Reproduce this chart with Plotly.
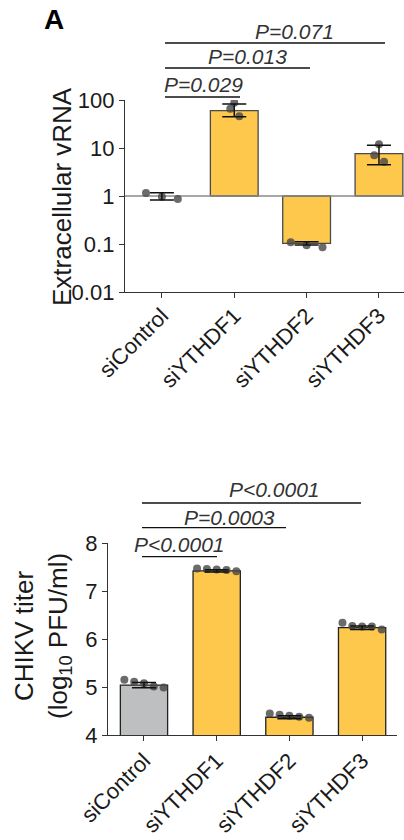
import plotly.graph_objects as go

# ---------------- data ----------------
categories = ["siControl", "siYTHDF1", "siYTHDF2", "siYTHDF3"]

vrna_mean = [1.0, 60.0, 0.103, 7.6]
vrna_upper = [1.17, 83.0, 0.111, 11.4]
vrna_lower = [0.83, 45.0, 0.095, 4.5]
vrna_ctrl_pts = [1.16, 0.96, 0.87]
vrna_f1_pts = [66.0, 88.0, 46.0]
vrna_f2_pts = [0.109, 0.094, 0.086]
vrna_f3_pts = [7.1, 12.0, 5.2]

titer_mean = [5.04, 7.42, 4.37, 6.235]
titer_sd = [0.055, 0.025, 0.03, 0.035]
titer_ctrl_pts = [5.15, 5.11, 5.08, 5.01, 4.99]
titer_f1_pts = [7.47, 7.46, 7.45, 7.44, 7.41]
titer_f2_pts = [4.45, 4.42, 4.40, 4.38, 4.36]
titer_f3_pts = [6.34, 6.27, 6.26, 6.26, 6.20]

vrna_ticks = [0.01, 0.1, 1, 10, 100]
vrna_ticktext = ["0.01", "0.1", "1", "10", "100"]
titer_ticks = [4, 5, 6, 7, 8]

p_top = ["P=0.029", "P=0.013", "P=0.071"]
p_bottom = ["P<0.0001", "P=0.0003", "P<0.0001"]

# ---------------- style / layout constants ----------------
W, H = 404, 840
FONT = "Liberation Sans, Arial, Helvetica, sans-serif"
TXT = "#1a1a1a"
YELLOW = "#FEC84C"
GREY = "#BEBFC1"
bar_colors = [GREY, YELLOW, YELLOW, YELLOW]
PT_COLOR = "rgba(70,70,70,0.8)"

top_offsets = [[-0.22, 0, 0.22], [-0.055, 0, 0.07], [-0.22, 0, 0.22], [-0.065, 0, 0.07]]
bot_offsets = [-0.27, -0.135, 0, 0.135, 0.27]


def X(px):
    return px / W


def Y(py):
    return 1 - py / H


fig = go.Figure()

# ---------- top panel ----------
fig.add_trace(go.Scatter(x=[-0.51, 3.346], y=[1, 1], mode="lines",
                         line=dict(color="#8a8a8a", width=1.5),
                         xaxis="x", yaxis="y", showlegend=False, hoverinfo="skip"))
fig.add_trace(go.Bar(x=list(range(4)), y=[v - 1 for v in vrna_mean], base=1,
                     width=0.66,
                     marker=dict(color=bar_colors,
                                 line=dict(color=["rgba(0,0,0,0)", "#4a4a4a", "#4a4a4a", "#4a4a4a"],
                                           width=1.3)),
                     xaxis="x", yaxis="y", showlegend=False))
vrna_pts = [vrna_ctrl_pts, vrna_f1_pts, vrna_f2_pts, vrna_f3_pts]
px_, py_ = [], []
for i, pts in enumerate(vrna_pts):
    for j, v in enumerate(pts):
        px_.append(i + top_offsets[i][j])
        py_.append(v)
fig.add_trace(go.Scatter(x=px_, y=py_, mode="markers",
                         marker=dict(size=8, color=PT_COLOR),
                         xaxis="x", yaxis="y", showlegend=False))
fig.add_trace(go.Scatter(x=list(range(4)), y=vrna_mean, mode="markers",
                         marker=dict(size=1, opacity=0),
                         error_y=dict(type="data", symmetric=False,
                                      array=[u - m for u, m in zip(vrna_upper, vrna_mean)],
                                      arrayminus=[m - l for m, l in zip(vrna_mean, vrna_lower)],
                                      color="#111111", thickness=1.5, width=12),
                         xaxis="x", yaxis="y", showlegend=False))

# ---------- bottom panel ----------
fig.add_trace(go.Bar(x=list(range(4)), y=titer_mean, width=0.65,
                     marker=dict(color=bar_colors, line=dict(color="#222222", width=1.3)),
                     xaxis="x2", yaxis="y2", showlegend=False))
titer_pts = [titer_ctrl_pts, titer_f1_pts, titer_f2_pts, titer_f3_pts]
px_, py_ = [], []
for i, pts in enumerate(titer_pts):
    for j, v in enumerate(pts):
        px_.append(i + bot_offsets[j])
        py_.append(v)
fig.add_trace(go.Scatter(x=px_, y=py_, mode="markers",
                         marker=dict(size=8, color=PT_COLOR),
                         xaxis="x2", yaxis="y2", showlegend=False))
fig.add_trace(go.Scatter(x=list(range(4)), y=titer_mean, mode="markers",
                         marker=dict(size=1, opacity=0),
                         error_y=dict(type="data", array=titer_sd,
                                      color="#111111", thickness=1.5, width=12),
                         xaxis="x2", yaxis="y2", showlegend=False))

axis_common = dict(showline=True, linecolor="#333333", linewidth=1.3,
                   ticks="outside", ticklen=5, tickcolor="#333333", tickwidth=1.2,
                   showgrid=False, zeroline=False, automargin=False,
                   tickfont=dict(family=FONT, size=22, color=TXT))

fig.update_layout(
    template="none",
    width=W, height=H, autosize=False,
    margin=dict(l=0, r=0, t=0, b=0, pad=0),
    paper_bgcolor="white", plot_bgcolor="white",
    showlegend=False,
    xaxis=dict(axis_common, domain=[X(125), 1.0], range=[-0.51, 3.346],
               tickvals=list(range(4)), ticktext=categories, tickangle=-45,
               ticklabelstandoff=-4, anchor="y"),
    yaxis=dict(axis_common, type="log", domain=[Y(292), Y(100)], range=[-2, 2],
               tickvals=vrna_ticks, ticktext=vrna_ticktext, anchor="x"),
    xaxis2=dict(axis_common, domain=[X(108), X(397)], range=[-0.495, 3.48],
                tickvals=list(range(4)), ticktext=categories, tickangle=-45,
                ticklabelstandoff=-2, anchor="y2"),
    yaxis2=dict(axis_common, domain=[Y(735), Y(543)], range=[4, 8],
                tickvals=titer_ticks, anchor="x2"),
)

shapes = []
annotations = []

# significance brackets (pixel layout)
top_lines = [(165, 240, 97), (165, 310, 68), (165, 385, 43)]
top_text_pos = [(203, 85), (247, 57), (294, 32)]
bot_lines = [(142, 217, 556.7), (142, 286, 527.7), (142, 361, 503)]
bot_text_pos = [(179, 544), (229.5, 517), (274, 489)]

for (x0, x1, yy), (tx, ty), label in zip(top_lines + bot_lines,
                                         top_text_pos + bot_text_pos,
                                         p_top + p_bottom):
    shapes.append(dict(type="line", xref="paper", yref="paper",
                       x0=X(x0), x1=X(x1), y0=Y(yy), y1=Y(yy),
                       line=dict(color="#111111", width=1.3)))
    annotations.append(dict(xref="paper", yref="paper", x=X(tx), y=Y(ty),
                            text="<i>" + label + "</i>", showarrow=False,
                            xanchor="center", yanchor="middle",
                            font=dict(family=FONT, size=21, color="#333333")))

annotations.append(dict(xref="paper", yref="paper", x=X(54), y=Y(19),
                        text="<b>A</b>", showarrow=False,
                        xanchor="center", yanchor="middle",
                        font=dict(family=FONT, size=28, color="#000000")))
annotations.append(dict(xref="paper", yref="paper", x=X(62), y=Y(197),
                        text="Extracellular vRNA", showarrow=False, textangle=-90,
                        xanchor="center", yanchor="middle",
                        font=dict(family=FONT, size=26, color=TXT)))
annotations.append(dict(xref="paper", yref="paper", x=X(42), y=Y(636),
                        text="CHIKV titer<br>(log<sub>10</sub> PFU/ml)", showarrow=False,
                        textangle=-90, xanchor="center", yanchor="middle",
                        font=dict(family=FONT, size=26, color=TXT)))

fig.update_layout(shapes=shapes, annotations=annotations)

fig.write_html("out.html",
               config={"displayModeBar": False},
               post_script="document.body.style.margin='0';document.body.style.overflow='hidden';")
